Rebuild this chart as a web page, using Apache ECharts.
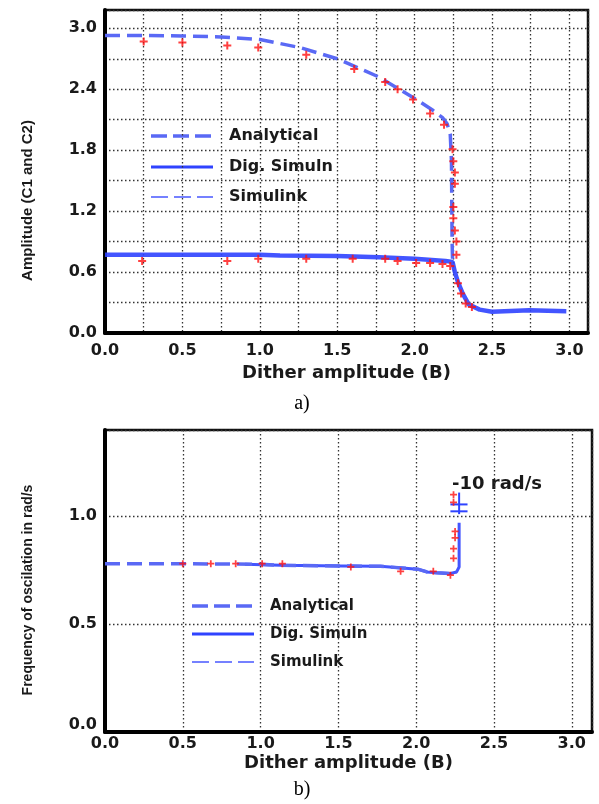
<!DOCTYPE html>
<html>
<head>
<meta charset="utf-8">
<script src="https://cdn.jsdelivr.net/npm/echarts@6/dist/echarts.min.js"></script>
<style>
  html, body { margin: 0; padding: 0; background: #fff; }
  #main { width: 599px; height: 804px; }
</style>
</head>
<body>
<div id="main"></div>
<script>
// ---- data: panel a) amplitude ----
const topAnalytical = [[0, 2.93], [0.25, 2.93], [0.5, 2.925], [0.75, 2.915], [1.0, 2.89], [1.13, 2.85], [1.26, 2.81],
    [1.5, 2.70], [1.77, 2.52], [2.02, 2.29], [2.12, 2.19], [2.18, 2.12], [2.21, 2.06], [2.23, 1.96],
    [2.238, 1.7], [2.24, 1.3], [2.242, 0.9], [2.245, 0.72]];
const topDigSim = [[0, 0.77], [0.5, 0.77], [1.0, 0.77], [1.13, 0.762], [1.5, 0.757], [1.77, 0.745], [2.0, 0.73],
    [2.2, 0.71], [2.245, 0.70], [2.26, 0.6], [2.28, 0.5], [2.31, 0.39], [2.35, 0.28], [2.42, 0.23],
    [2.5, 0.21], [2.74, 0.225], [2.98, 0.215]];
const topSimulink = [[0.25, 2.87], [0.5, 2.86], [0.79, 2.83], [0.99, 2.81], [1.30, 2.74], [1.61, 2.60], [1.81, 2.47],
    [1.89, 2.40], [1.99, 2.30], [2.10, 2.16], [2.19, 2.05], [2.245, 1.81], [2.25, 1.69], [2.26, 1.58],
    [2.26, 1.47], [2.25, 1.24], [2.25, 1.13], [2.26, 1.01], [2.27, 0.90], [2.27, 0.77],
    [0.24, 0.71], [0.79, 0.71], [0.99, 0.73], [1.30, 0.73], [1.60, 0.73], [1.81, 0.73], [1.89, 0.71],
    [2.01, 0.69], [2.10, 0.69], [2.18, 0.68], [2.23, 0.66], [2.28, 0.49], [2.30, 0.39], [2.33, 0.29], [2.37, 0.255]];

// ---- data: panel b) frequency ----
const botAnalytical = [[0, 0.78], [0.5, 0.78], [1.0, 0.778], [1.13, 0.773], [1.52, 0.77], [1.77, 0.768],
    [2.01, 0.755], [2.07, 0.742], [2.13, 0.738], [2.22, 0.735], [2.26, 0.742]];
const botDigSim = [[0.9, 0.778], [1.13, 0.773], [1.52, 0.77], [1.77, 0.768], [2.01, 0.755], [2.07, 0.742],
    [2.13, 0.738], [2.22, 0.735], [2.26, 0.742], [2.276, 0.765], [2.276, 0.97]];
const botDigSimUpper = [[2.276, 1.01], [2.276, 1.11]];
const botBreakLow = [[2.22, 1.023], [2.33, 1.023]];
const botBreakHigh = [[2.22, 1.055], [2.33, 1.055]];
const botSimulink = [[0.50, 0.78], [0.68, 0.78], [0.84, 0.78], [1.01, 0.78], [1.14, 0.78], [1.58, 0.765],
    [1.90, 0.745], [2.11, 0.745], [2.22, 0.727], [2.24, 0.805], [2.24, 0.85], [2.25, 0.90], [2.25, 0.93],
    [2.24, 1.065], [2.24, 1.10]];

const legendNames = ['Analytical', 'Dig. Simuln', 'Simulink'];

const dashBlue = '#5a69f5';
const solidBlue = '#2f43ff';
const plusRed = '#ff1010';
const plusPath = 'path://M3,0h2v3h3v2h-3v3h-2v-3h-3v-2h3z';

const tickFont = { fontFamily: 'DejaVu Sans', fontWeight: 'bold', fontSize: 16, color: '#1a1a1a' };
const gridDots = { show: true, lineStyle: { color: '#333', width: 1.3, type: [1.5, 2.5] } };

const halfStep = v => Math.abs(v * 2 - Math.round(v * 2)) < 1e-6 ? v.toFixed(1) : '';
const sixStep = v => Math.abs(v / 0.6 - Math.round(v / 0.6)) < 1e-6 ? v.toFixed(1) : '';
// zero label on the frequency axis sits a bit above its line
const freqLabel = v => v === 0 ? '{low|0.0}' : halfStep(v);

const legendGroup = (x0, ys, textX, fontSize) => {
    const styles = [
        { stroke: dashBlue, lineWidth: 3.5, lineDash: [16, 6] },
        { stroke: solidBlue, lineWidth: 3 },
        { stroke: '#4858ff', lineWidth: 1.5, lineDash: [17, 6] }
    ];
    const children = [];
    legendNames.forEach((name, i) => {
        children.push({ type: 'line', shape: { x1: x0, y1: ys[i], x2: x0 + 62, y2: ys[i] }, style: styles[i] });
        children.push({
            type: 'text', x: textX, y: ys[i],
            style: { text: name, font: 'bold ' + fontSize + 'px "DejaVu Sans"', fill: '#1a1a1a', verticalAlign: 'middle' }
        });
    });
    return { type: 'group', children: children };
};

var chartDom = document.getElementById('main');
var myChart = echarts.init(chartDom);
var option;

option = {
    animation: false,
    backgroundColor: '#fff',
    grid: [
        { left: 105, top: 10, width: 483, height: 323, show: true, borderColor: '#111', borderWidth: 2.5 },
        { left: 105, top: 430, width: 487, height: 302, show: true, borderColor: '#111', borderWidth: 2.5 }
    ],
    xAxis: [{
        gridIndex: 0, type: 'value', min: 0, max: 3.12, interval: 0.25,
        axisLine: { lineStyle: { color: '#000', width: 4 } },
        axisTick: { show: false },
        axisLabel: Object.assign({ margin: 10, formatter: halfStep, showMaxLabel: false }, tickFont),
        splitLine: gridDots,
        name: 'Dither amplitude (B)', nameLocation: 'middle', nameGap: 31,
        nameTextStyle: { fontFamily: 'DejaVu Sans', fontWeight: 'bold', fontSize: 18, color: '#1a1a1a' }
    }, {
        gridIndex: 1, type: 'value', min: 0, max: 3.13, interval: 0.5,
        axisLine: { lineStyle: { color: '#000', width: 4 } },
        axisTick: { show: false },
        axisLabel: Object.assign({ margin: 4, formatter: halfStep, showMaxLabel: false }, tickFont),
        splitLine: gridDots,
        name: 'Dither amplitude (B)', nameLocation: 'middle', nameGap: 22,
        nameTextStyle: { fontFamily: 'DejaVu Sans', fontWeight: 'bold', fontSize: 18, color: '#1a1a1a' }
    }],
    yAxis: [{
        gridIndex: 0, type: 'value', min: 0, max: 3.18, interval: 0.3,
        axisLine: { show: true, lineStyle: { color: '#000', width: 4 } },
        axisTick: { show: false },
        axisLabel: Object.assign({ margin: 8, formatter: sixStep, showMaxLabel: false }, tickFont),
        splitLine: gridDots,
        name: 'Amplitude (C1 and C2)', nameLocation: 'middle', nameGap: 70,
        nameTextStyle: { fontFamily: 'Liberation Sans', fontWeight: 'bold', fontSize: 15, color: '#1a1a1a', padding: [0, 58, 0, 0] }
    }, {
        gridIndex: 1, type: 'value', min: 0, max: 1.4, interval: 0.5,
        axisLine: { show: true, lineStyle: { color: '#000', width: 4 } },
        axisTick: { show: false },
        axisLabel: Object.assign({
            margin: 8, formatter: freqLabel, showMaxLabel: false,
            rich: { low: Object.assign({ padding: [0, 0, 14, 0] }, tickFont) }
        }, tickFont),
        splitLine: gridDots,
        name: 'Frequency of oscilation in rad/s', nameLocation: 'middle', nameGap: 70,
        nameTextStyle: { fontFamily: 'Liberation Sans', fontWeight: 'bold', fontSize: 14, color: '#1a1a1a', padding: [0, 18, 0, 0] }
    }],
    series: [
        {
            name: 'Analytical', type: 'line', xAxisIndex: 0, yAxisIndex: 0, data: topAnalytical,
            symbol: 'none', lineStyle: { color: dashBlue, width: 3.5, type: [15, 7] }, z: 3
        },
        {
            name: 'Dig. Simuln', type: 'line', xAxisIndex: 0, yAxisIndex: 0, data: topDigSim,
            symbol: 'none', lineStyle: { color: solidBlue, width: 4.5, opacity: 0.9 }, z: 2
        },
        {
            name: 'Simulink', type: 'scatter', xAxisIndex: 0, yAxisIndex: 0, data: topSimulink,
            symbol: plusPath, symbolSize: 8, itemStyle: { color: plusRed }, z: 4
        },
        {
            name: 'Analytical', type: 'line', xAxisIndex: 1, yAxisIndex: 1, data: botAnalytical,
            symbol: 'none', lineStyle: { color: dashBlue, width: 3.5, type: [15, 7] }, z: 3
        },
        {
            name: 'Dig. Simuln', type: 'line', xAxisIndex: 1, yAxisIndex: 1, data: botDigSim,
            symbol: 'none', lineStyle: { color: solidBlue, width: 3, opacity: 0.9 }, z: 2
        },
        {
            name: 'Dig. Simuln', type: 'line', xAxisIndex: 1, yAxisIndex: 1, data: botDigSimUpper,
            symbol: 'none', lineStyle: { color: solidBlue, width: 2 }, z: 2
        },
        {
            name: 'break', type: 'line', xAxisIndex: 1, yAxisIndex: 1, data: botBreakLow,
            symbol: 'none', lineStyle: { color: solidBlue, width: 2 }, z: 2
        },
        {
            name: 'break', type: 'line', xAxisIndex: 1, yAxisIndex: 1, data: botBreakHigh,
            symbol: 'none', lineStyle: { color: solidBlue, width: 2 }, z: 2
        },
        {
            name: 'Simulink', type: 'scatter', xAxisIndex: 1, yAxisIndex: 1, data: botSimulink,
            symbol: plusPath, symbolSize: 7, itemStyle: { color: plusRed }, z: 4
        }
    ],
    graphic: [
        legendGroup(151, [136, 167, 197], 229, 16),
        legendGroup(192, [606, 634, 662], 270, 15),
        {
            type: 'text', x: 452, y: 484,
            style: { text: '-10 rad/s', font: 'bold 18px "DejaVu Sans"', fill: '#1a1a1a', verticalAlign: 'middle' }
        },
        {
            type: 'text', x: 302, y: 404,
            style: { text: 'a)', font: '20px "Liberation Serif"', fill: '#000', align: 'center', verticalAlign: 'middle' }
        },
        {
            type: 'text', x: 302, y: 790,
            style: { text: 'b)', font: '20px "Liberation Serif"', fill: '#000', align: 'center', verticalAlign: 'middle' }
        }
    ]
};

option && myChart.setOption(option);
</script>
</body>
</html>
